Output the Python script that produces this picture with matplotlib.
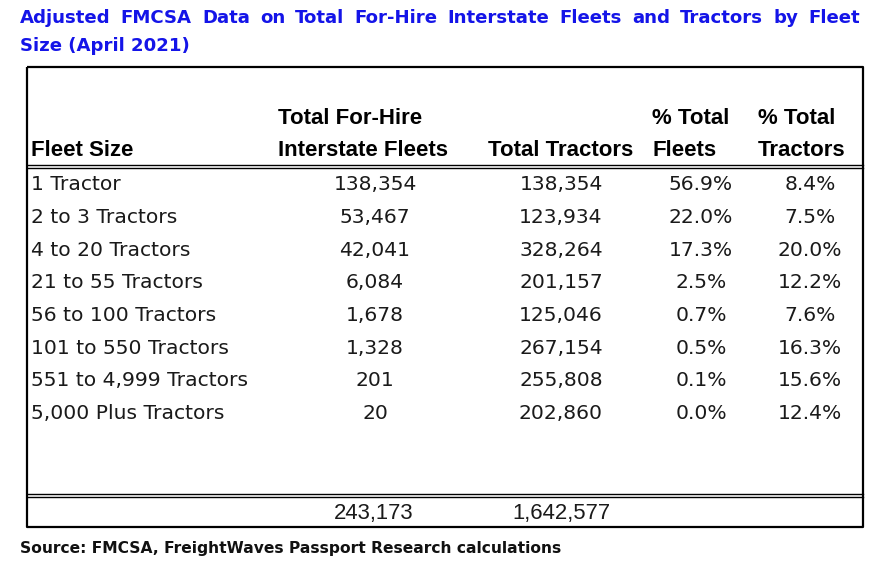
import matplotlib
matplotlib.use("Agg")
import matplotlib.pyplot as plt

title_line1 = "Adjusted FMCSA Data on Total For-Hire Interstate Fleets and Tractors by Fleet"
title_line2 = "Size (April 2021)"
source = "Source: FMCSA, FreightWaves Passport Research calculations"

header_top = ["", "Total For-Hire", "", "% Total", "% Total"]
header_bottom = ["Fleet Size", "Interstate Fleets", "Total Tractors", "Fleets", "Tractors"]

fleet_sizes = ["1 Tractor", "2 to 3 Tractors", "4 to 20 Tractors", "21 to 55 Tractors",
               "56 to 100 Tractors", "101 to 550 Tractors", "551 to 4,999 Tractors",
               "5,000 Plus Tractors"]
fleets = [138354, 53467, 42041, 6084, 1678, 1328, 201, 20]
tractors = [138354, 123934, 328264, 201157, 125046, 267154, 255808, 202860]
pct_fleets = [56.9, 22.0, 17.3, 2.5, 0.7, 0.5, 0.1, 0.0]
pct_tractors = [8.4, 7.5, 20.0, 12.2, 7.6, 16.3, 15.6, 12.4]
total_fleets = 243173
total_tractors = 1642577

W, H = 877, 570
fig = plt.figure(figsize=(W / 100, H / 100), dpi=100)
ax = fig.add_axes([0, 0, 1, 1])
ax.set_xlim(0, W)
ax.set_ylim(H, 0)
ax.axis("off")
renderer = fig.canvas.get_renderer()


def width_of(t):
    return t.get_window_extent(renderer=renderer).width


def fit_size(s, target, base=12, **kw):
    t = ax.text(0, 0, s, fontsize=base, **kw)
    w = width_of(t)
    t.remove()
    return base * target / w


blue = "#1414e8"
tkw = dict(fontweight="bold", color=blue, family="DejaVu Sans", va="center", ha="left")
tsize = fit_size(title_line2, 170, **tkw)
ax.text(20, 46, title_line2, fontsize=tsize, **tkw)
# justified first title line
words = title_line1.split(" ")
ws = []
for w in words:
    t = ax.text(0, 0, w, fontsize=tsize, **tkw)
    ws.append(width_of(t))
    t.remove()
gap = (840 - sum(ws)) / (len(words) - 1)
x = 20
for w, wd in zip(words, ws):
    ax.text(x, 18, w, fontsize=tsize, **tkw)
    x += wd + gap

# table box
L, R, T, B = 27, 863, 67, 527
ax.plot([L, R, R, L, L], [T, T, B, B, T], color="black", lw=1.6, solid_capstyle="butt")
for y in (164.5, 167.5, 493.5, 496.5):
    ax.plot([L, R], [y, y], color="black", lw=1.0)

# header
hkw = dict(fontweight="bold", family="Liberation Sans", va="center", ha="left")
hsize = fit_size("Interstate Fleets", 170, **hkw)
hx = [31, 278, 488, 652, 758]
for x, t1, t2 in zip(hx, header_top, header_bottom):
    if t1:
        ax.text(x, 118, t1, fontsize=hsize, **hkw)
    ax.text(x, 151, t2, fontsize=hsize, **hkw)

# rows
dkw = dict(family="DejaVu Sans", va="center", color="#1a1a1a")
dsize = fit_size("5,000 Plus Tractors", 192, **dkw)
row_y0, row_dy = 185, 32.6
cx = [375, 561, 701, 810]
for i, name in enumerate(fleet_sizes):
    y = row_y0 + i * row_dy
    ax.text(31, y, name, fontsize=dsize, ha="left", **dkw)
    vals = [f"{fleets[i]:,}", f"{tractors[i]:,}", f"{pct_fleets[i]:.1f}%", f"{pct_tractors[i]:.1f}%"]
    for x, v in zip(cx, vals):
        ax.text(x, y, v, fontsize=dsize, ha="center", **dkw)

# totals
tot_kw = dict(family="Liberation Sans", va="center", ha="center", color="#1a1a1a")
totsize = fit_size(f"{total_tractors:,}", 98, **tot_kw)
ax.text(374, 514, f"{total_fleets:,}", fontsize=totsize, **tot_kw)
ax.text(561, 514, f"{total_tractors:,}", fontsize=totsize, **tot_kw)

skw = dict(fontweight="bold", family="DejaVu Sans", va="center", ha="left", color="#111111")
ssize = fit_size(source, 539, **skw)
ax.text(20, 548, source, fontsize=ssize, **skw)

fig.savefig("out.png", dpi=100)
